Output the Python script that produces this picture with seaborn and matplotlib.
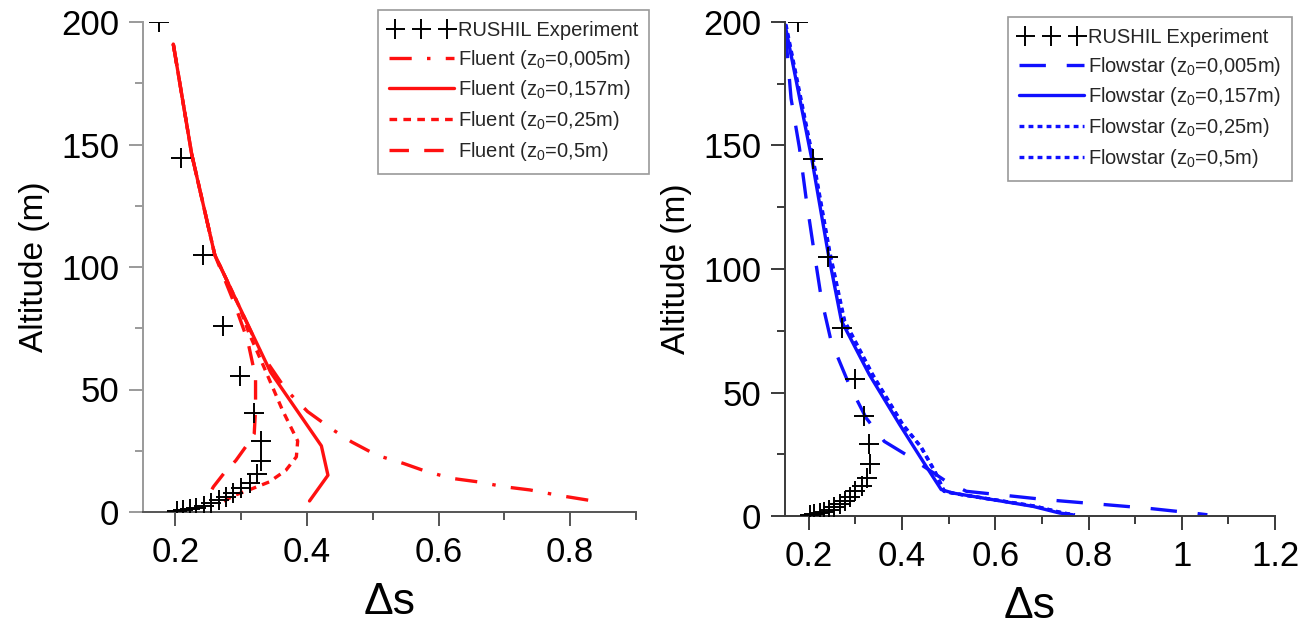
import numpy as np
import pandas as pd
import matplotlib
matplotlib.use("Agg")
import matplotlib.pyplot as plt
import seaborn as sns
from matplotlib.ticker import MultipleLocator, FuncFormatter

sns.set_theme(style="white")
plt.rcParams["font.family"] = ["Liberation Sans", "DejaVu Sans"]
plt.rcParams["mathtext.fontset"] = "custom"
plt.rcParams["mathtext.rm"] = "Liberation Sans"
plt.rcParams["mathtext.it"] = "Liberation Sans"
plt.rcParams["lines.scale_dashes"] = False

# ---- RUSHIL experiment (same data in both panels) ----
exp_ds = [0.176, 0.208, 0.242, 0.272, 0.299, 0.319, 0.330, 0.331, 0.324, 0.314,
          0.300, 0.288, 0.277, 0.266, 0.255, 0.243, 0.232, 0.223, 0.212, 0.202]
exp_alt = [200, 144.5, 105, 76, 55.5, 40.5, 29, 21, 15.5, 12,
           10, 7.8, 6.1, 4.9, 3.7, 2.4, 1.8, 1.2, 0.8, 0.4]

# ---- Fluent (left panel) ----
fl_005_ds = [0.197, 0.225, 0.260, 0.297, 0.330, 0.368, 0.401, 0.437, 0.468, 0.506,
             0.547, 0.583, 0.621, 0.660, 0.700, 0.739, 0.780, 0.835]
fl_005_alt = [191, 146, 105, 84, 65, 50, 41, 34, 28.6, 23.2,
              19.8, 16.4, 13.7, 12.3, 10.3, 9.0, 6.9, 4.5]
fl_157_ds = [0.197, 0.225, 0.260, 0.297, 0.345, 0.422, 0.432, 0.404]
fl_157_alt = [191, 146, 105, 84, 57, 27, 15, 4.5]
fl_025_ds = [0.197, 0.225, 0.260, 0.297, 0.312, 0.335, 0.363, 0.386, 0.384, 0.368,
             0.343, 0.312, 0.292, 0.272]
fl_025_alt = [191, 146, 105, 84, 73, 59, 41.5, 29, 22.5, 17,
              12.3, 9, 7, 4.2]
fl_05_ds = [0.197, 0.225, 0.260, 0.290, 0.310, 0.322, 0.322, 0.320, 0.307, 0.292,
            0.274, 0.258, 0.249]
fl_05_alt = [191, 146, 105, 85, 70, 55, 42, 32, 26.6, 21,
             15.8, 10.3, 6]

# ---- Flowstar (right panel) ----
fs_005_ds = [0.150, 0.162, 0.180, 0.194, 0.209, 0.227, 0.248, 0.287, 0.323, 0.362,
             0.409, 0.452, 0.495, 0.538, 0.609, 0.709, 0.817, 0.924, 1.024, 1.055]
fs_005_alt = [196, 169, 149, 129, 110, 88, 70.7, 53, 39.7, 30.2,
              24.8, 19.4, 14, 10, 8.6, 6.6, 4.9, 3.2, 1.2, 0.5]
fs_157_ds = [0.149, 0.207, 0.241, 0.270, 0.330, 0.395, 0.445, 0.484, 0.509, 0.595,
             0.681, 0.738, 0.766]
fs_157_alt = [199, 144, 107, 79, 57.2, 37, 22.1, 10.7, 9.3, 6.6,
              3.9, 1.2, 0.5]
fs_025_ds = [0.150, 0.209, 0.244, 0.276, 0.337, 0.401, 0.440, 0.470, 0.490, 0.515,
             0.600, 0.684, 0.745, 0.770]
fs_025_alt = [199, 144, 107, 79, 57, 37, 28, 18, 10, 9,
              6.5, 4, 1.2, 0.5]
fs_05_ds = [0.151, 0.210, 0.245, 0.277, 0.338, 0.402, 0.441, 0.471, 0.491, 0.516,
            0.601, 0.685, 0.746, 0.771]
fs_05_alt = [199, 144, 107, 79, 57, 37, 28, 18, 10, 9,
             6.5, 4, 1.2, 0.5]

xticks_left = [0.2, 0.4, 0.6, 0.8]
xticks_right = [0.2, 0.4, 0.6, 0.8, 1.0, 1.2]
yticks = [0, 50, 100, 150, 200]

RED = "#ff1010"
BLUE = "#1010ff"

fig = plt.figure(figsize=(13.07, 6.33), dpi=100)
axL = fig.add_axes([143 / 1307, 121 / 633, 493 / 1307, 490 / 633])
axR = fig.add_axes([785 / 1307, 117 / 633, 490 / 1307, 494 / 633])

LW = 2.4


def exp_points(ax):
    sns.scatterplot(x=exp_ds, y=exp_alt, marker="+", color="black", s=190,
                    linewidth=1.4, label="RUSHIL Experiment", ax=ax, zorder=5)


def curve(ax, xs, ys, color, ls, label):
    sns.lineplot(x=xs, y=ys, sort=False, estimator=None, color=color,
                 linewidth=LW, linestyle=ls, label=label, ax=ax)


exp_points(axL)
curve(axL, fl_005_ds, fl_005_alt, RED, (0, (16, 11, 2.5, 11)), "Fluent (z$_0$=0,005m)")
curve(axL, fl_157_ds, fl_157_alt, RED, "-", "Fluent (z$_0$=0,157m)")
curve(axL, fl_025_ds, fl_025_alt, RED, (0, (5.5, 4.5)), "Fluent (z$_0$=0,25m)")
curve(axL, fl_05_ds, fl_05_alt, RED, (0, (14, 11)), "Fluent (z$_0$=0,5m)")

exp_points(axR)
curve(axR, fs_005_ds, fs_005_alt, BLUE, (0, (19, 15)), "Flowstar (z$_0$=0,005m)")
curve(axR, fs_157_ds, fs_157_alt, BLUE, "-", "Flowstar (z$_0$=0,157m)")
curve(axR, fs_025_ds, fs_025_alt, BLUE, (0, (3.5, 3)), "Flowstar (z$_0$=0,25m)")
curve(axR, fs_05_ds, fs_05_alt, BLUE, (0, (3.5, 3)), "Flowstar (z$_0$=0,5m)")


def fmt(v, pos):
    s = f"{v:.1f}"
    return "1" if s == "1.0" else s


for ax, xlim, xt, lcol, bcol in [(axL, (0.151, 0.9), xticks_left, "#9a9a9a", "#555555"),
                                 (axR, (0.149, 1.2), xticks_right, "#3a3a3a", "#3a3a3a")]:
    ax.set_xlim(*xlim)
    ax.set_ylim(0, 200)
    ax.set_xticks(xt)
    ax.xaxis.set_minor_locator(MultipleLocator(0.1))
    ax.xaxis.set_major_formatter(FuncFormatter(fmt))
    ax.set_yticks(yticks)
    ax.yaxis.set_minor_locator(MultipleLocator(25))
    for side in ["top", "right"]:
        ax.spines[side].set_visible(False)
    ax.spines["left"].set_color(lcol)
    ax.spines["bottom"].set_color(bcol)
    for side in ["left", "bottom"]:
        ax.spines[side].set_linewidth(1.4)
    ax.tick_params(axis="y", which="major", direction="out", length=10,
                   width=1.4, color=lcol, labelsize=25, labelcolor="black",
                   left=True, pad=7)
    ax.tick_params(axis="y", which="minor", direction="out", length=6,
                   width=1.4, color=lcol, left=True)
    ax.tick_params(axis="x", which="major", direction="out", length=10,
                   width=1.4, color=bcol, labelsize=25, labelcolor="black",
                   bottom=True, pad=7)
    ax.tick_params(axis="x", which="minor", direction="out", length=6,
                   width=1.4, color=bcol, bottom=True)
    ax.set_xlabel("Δs", fontsize=32, labelpad=10, color="black")
    ax.set_ylabel("Altitude (m)", fontsize=24, labelpad=8, color="black")
    ax.grid(False)
    ax.patch.set_visible(False)


def make_legend(ax, anchor):
    handles, labels = ax.get_legend_handles_labels()
    order = sorted(range(len(labels)), key=lambda i: (labels[i] != "RUSHIL Experiment", i))
    leg = ax.legend([handles[i] for i in order], [labels[i] for i in order],
                    loc="upper left", bbox_to_anchor=anchor,
                    bbox_transform=fig.transFigure, borderaxespad=0,
                    fontsize=14.5, frameon=True, fancybox=False,
                    edgecolor="#9a9a9a", framealpha=1, handlelength=3.2,
                    handletextpad=0.2, borderpad=0.55, labelspacing=0.38,
                    scatterpoints=3, scatteryoffsets=[0.5])
    leg.get_frame().set_linewidth(1.2)


make_legend(axL, (378 / 1307, 1 - 10 / 633))
make_legend(axR, (1008 / 1307, 1 - 17 / 633))

fig.savefig("out.png", dpi=100, facecolor="white")
